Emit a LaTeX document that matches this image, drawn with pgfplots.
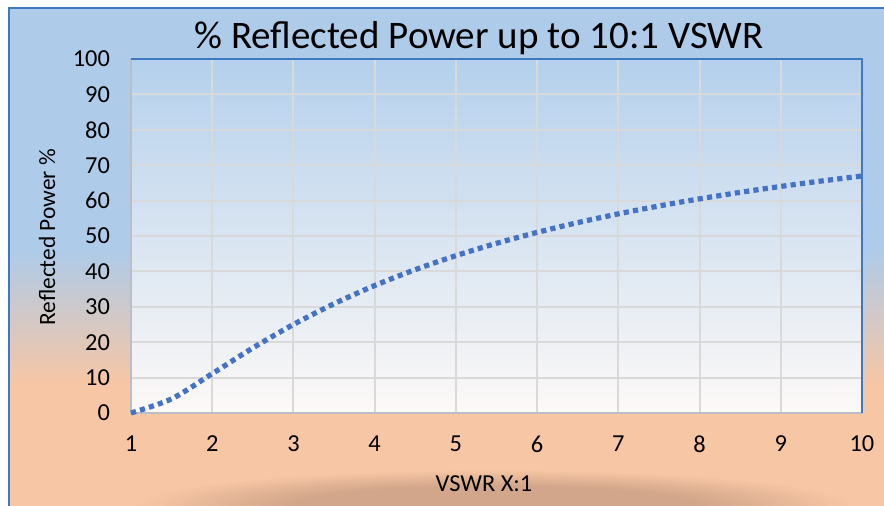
\documentclass[border=0pt]{standalone}
\usepackage{fontspec}
\setmainfont{Carlito}
\usepackage{pgfplots}
\pgfplotsset{compat=1.18}
\usetikzlibrary{fadings}
\definecolor{bgblue}{RGB}{174,203,233}
\definecolor{bgpeach}{RGB}{247,198,164}
\definecolor{shadowc}{RGB}{210,166,138}
\definecolor{framblue}{RGB}{62,120,190}
\definecolor{gridc}{RGB}{217,217,217}
\definecolor{lineblue}{RGB}{68,114,196}
\definecolor{pltop}{RGB}{180,208,236}
\definecolor{plmid}{RGB}{216,230,244}
\definecolor{plbot}{RGB}{253,249,247}
\definecolor{axgray}{RGB}{185,190,200}

\pgfdeclareradialshading{softshade}{\pgfpoint{0bp}{0bp}}{color(0bp)=(pgftransparent!0); color(14bp)=(pgftransparent!0); color(25bp)=(pgftransparent!100); color(50bp)=(pgftransparent!100)}
\pgfdeclarefading{softbox}{\pgfuseshading{softshade}}

\begin{document}
\begin{tikzpicture}
\path[use as bounding box] (0,0) rectangle (442pt,253pt);
\fill[white] (0,0) rectangle (442pt,253pt);
\begin{scope}
\clip (0,0) rectangle (442pt,253pt);
\fill[bgblue] (4.5pt,127pt) rectangle (442pt,249pt);
\shade[top color=bgblue, bottom color=bgpeach] (4.5pt,60.5pt) rectangle (442pt,128pt);
\fill[bgpeach] (4.5pt,0pt) rectangle (442pt,61pt);
\fill[shadowc, path fading=softbox, fit fading=true] (70pt,-18pt) rectangle (425pt,18pt);
\draw[framblue, line width=1pt] (4.5pt,-2pt) -- (4.5pt,249pt) -- (445pt,249pt);
\end{scope}

\begin{axis}[
  at={(65.5pt,46.5pt)}, anchor=south west,
  width=365.5pt, height=177pt, scale only axis,
  xmin=1, xmax=10, ymin=0, ymax=100,
  xtick={1,2,...,10}, ytick={0,10,...,100},
  grid=major,
  grid style={draw=gridc, line width=1pt},
  axis background/.style={top color=pltop, middle color=plmid, bottom color=plbot},
  axis line style={draw=axgray, line width=0.8pt},
  tick style={draw=none},
  ticklabel style={font=\fontsize{12.2}{14}\selectfont},
  /pgf/number format/assume math mode=true,
  yticklabel style={xshift=-7pt},
  xticklabel style={yshift=-8pt},
  clip=false,
]
\addplot[color=lineblue, line width=2.6pt, dash pattern=on 2.6pt off 2.1pt, smooth, tension=0.5] coordinates {
(1,0) (1.5,4.00) (2,11.11) (2.5,18.37) (3,25.00) (3.5,30.86) (4,36.00) (4.5,40.50)
(5,44.44) (5.5,47.93) (6,51.02) (6.5,53.78) (7,56.25) (7.5,58.48) (8,60.49)
(8.5,62.33) (9,64.00) (9.5,65.53) (10,66.94)
};
\draw[framblue, line width=1pt] (rel axis cs:0,1) -- (rel axis cs:1,1) -- (rel axis cs:1,0);
\end{axis}

\node[font=\fontsize{19.5}{22}\selectfont] at (239.5pt,234pt) {\% Reflected Power up to 10:1 VSWR};
\node[font=\fontsize{12.2}{14}\selectfont] at (242pt,11pt) {VSWR X:1};
\node[font=\fontsize{11.7}{14}\selectfont, rotate=90] at (23.5pt,134.3pt) {Reflected Power \%};
\end{tikzpicture}
\end{document}
